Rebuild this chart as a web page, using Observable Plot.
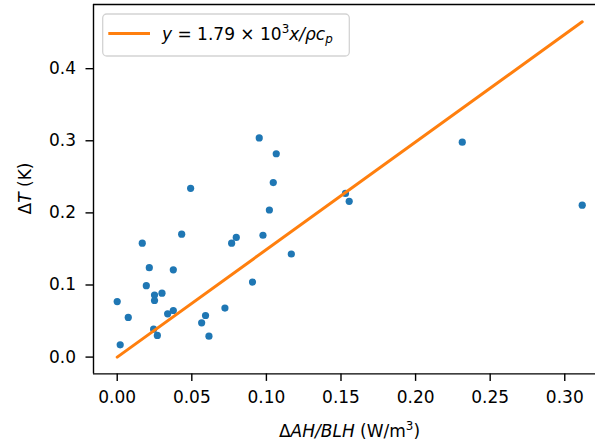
<!DOCTYPE html>
<html>
<head>
<meta charset="utf-8">
<script src="https://cdn.jsdelivr.net/npm/d3@7"></script>
<script src="https://cdn.jsdelivr.net/npm/@observablehq/plot@0.6"></script>
<style>
html,body{margin:0;padding:0;background:#fff;overflow:hidden;}
</style>
</head>
<body>
<div id="chart"></div>
<script>
const dAH = [0.000,0.002,0.0074,0.0168,0.0215,0.0195,0.025,0.025,0.030,0.0244,0.0269,0.0338,0.0376,0.0376,0.0432,0.0492,0.0566,0.0592,0.0615,0.0722,0.0767,0.0798,0.0907,0.0977,0.102,0.1046,0.1167,0.0952,0.1066,0.153,0.1555,0.2313,0.3117];
const dT  = [0.077,0.017,0.055,0.158,0.124,0.099,0.086,0.0785,0.0886,0.0387,0.030,0.060,0.0646,0.121,0.1705,0.234,0.0476,0.0577,0.029,0.068,0.158,0.166,0.104,0.169,0.204,0.242,0.143,0.304,0.282,0.227,0.216,0.298,0.2107];
const fitX = [0, 0.3117];
const fitY = [0, 0.465];
const xTicks = [0,0.05,0.10,0.15,0.20,0.25,0.30];
const yTicks = [0,0.1,0.2,0.3,0.4];

const points = dAH.map((x,i)=>({x, y:dT[i]}));
const fit = fitX.map((x,i)=>({x, y:fitY[i]}));

const xDomain = [-0.0159, 0.3206];
const yDomain = [-0.0233, 0.489];
const font = "DejaVu Sans";

const chart = Plot.plot({
  width: 595, height: 446,
  marginLeft: 93, marginRight: 0, marginTop: 4, marginBottom: 72.6,
  style: {fontFamily: font, fontSize: "17px", color: "#000", background: "#fff"},
  x: {domain: xDomain, label: null},
  y: {domain: yDomain, label: null},
  marks: [
    Plot.dot(points, {x:"x", y:"y", r:3.6, fill:"#1f77b4", stroke:"none"}),
    Plot.line(fit, {x:"x", y:"y", stroke:"#ff7f0e", strokeWidth:3}),
    Plot.ruleX([xDomain[0]], {stroke:"#000", strokeWidth:1.4}),
    Plot.ruleY([yDomain[0], yDomain[1]], {stroke:"#000", strokeWidth:1.4}),
    Plot.axisX({ticks: xTicks, tickFormat: d3.format(".2f"), tickSize: 7.5, tickPadding: 10, strokeWidth: 1.4, label: null, fontSize: 17}),
    Plot.axisY({ticks: yTicks, tickFormat: d3.format(".1f"), tickSize: 7.5, tickPadding: 10, strokeWidth: 1.4, label: null, fontSize: 17})
  ]
});
document.getElementById("chart").appendChild(chart);

const svg = d3.select(chart);
// Legend
const lg = svg.append("g").attr("font-family", font).attr("font-size", 17).attr("text-anchor","start");
lg.append("rect").attr("x",102.7).attr("y",14).attr("width",246.6).attr("height",42).attr("rx",4)
  .attr("fill","#fff").attr("fill-opacity",0.8).attr("stroke","#d3d3d3").attr("stroke-width",1.3);
lg.append("line").attr("x1",108.3).attr("x2",150).attr("y1",33.5).attr("y2",33.5)
  .attr("stroke","#ff7f0e").attr("stroke-width",3);
const lt = lg.append("text").attr("x",162).attr("y",39.5).attr("fill","#000").attr("text-anchor","start");
lt.append("tspan").attr("font-style","italic").text("y");
lt.append("tspan").text(" = 1.79 × 10");
lt.append("tspan").attr("font-size","70%").attr("dy","-0.55em").text("3");
lt.append("tspan").attr("font-style","italic").attr("dy","0.39em").text("x/ρc");
lt.append("tspan").attr("font-style","italic").attr("font-size","70%").attr("dy","0.25em").text("p");

// Axis labels
const xl = svg.append("text").attr("x",349.5).attr("y",437).attr("text-anchor","middle")
  .attr("font-family",font).attr("font-size",17).attr("fill","#000");
xl.append("tspan").text("Δ");
xl.append("tspan").attr("font-style","italic").text("AH/BLH");
xl.append("tspan").text(" (W/m");
xl.append("tspan").attr("font-size","70%").attr("dy","-0.55em").text("3");
xl.append("tspan").attr("dy","0.39em").text(")");

const yl = svg.append("text").attr("transform","translate(31,188.5) rotate(-90)").attr("text-anchor","middle")
  .attr("font-family",font).attr("font-size",17).attr("fill","#000");
yl.append("tspan").text("Δ");
yl.append("tspan").attr("font-style","italic").text("T");
yl.append("tspan").text(" (K)");
</script>
</body>
</html>
